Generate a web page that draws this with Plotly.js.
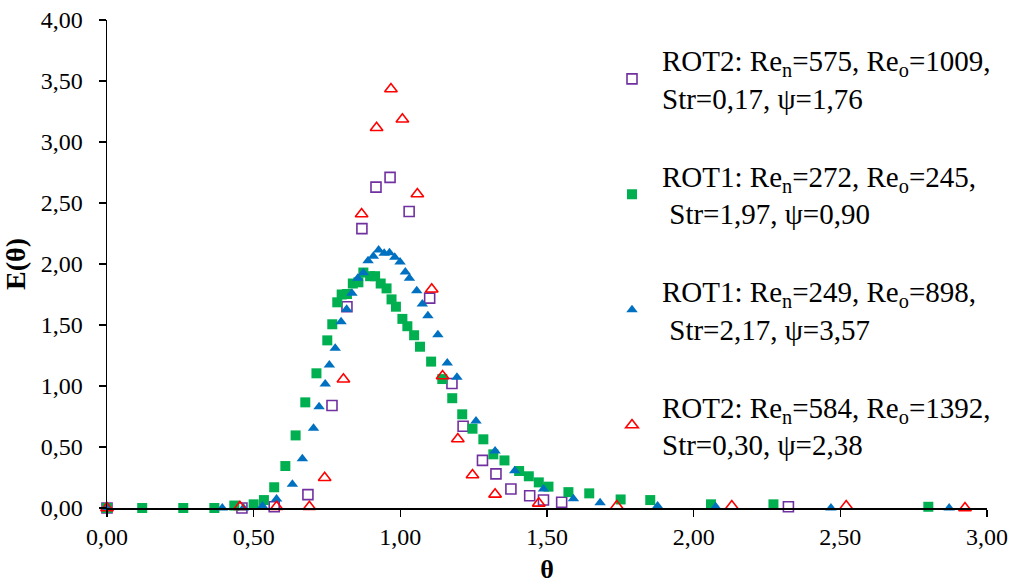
<!DOCTYPE html>
<html>
<head>
<meta charset="utf-8">
<script src="https://cdn.plot.ly/plotly-3.0.1.min.js"></script>
<style>html,body{margin:0;padding:0;background:#fff;}#chart{width:1009px;height:585px;}</style>
</head>
<body>
<div id="chart"></div>
<script>
// ROT2: Re_n=575, Re_o=1009 (purple open squares)
const theta_rot2_575 = [0, 0.46, 0.57, 0.685, 0.767, 0.818, 0.869, 0.917, 0.965, 1.03, 1.10, 1.176, 1.214, 1.28, 1.326, 1.377, 1.441, 1.488, 1.55, 2.323];
const E_rot2_575     = [0, 0, 0.01, 0.11, 0.84, 1.65, 2.29, 2.63, 2.71, 2.43, 1.72, 1.02, 0.67, 0.39, 0.28, 0.156, 0.10, 0.065, 0.047, 0.01];

// ROT1: Re_n=272, Re_o=245 (green filled squares)
const theta_rot1_272 = [0, 0.12, 0.26, 0.366, 0.434, 0.50, 0.535, 0.57, 0.608, 0.643, 0.676, 0.714, 0.751, 0.768, 0.785, 0.80, 0.818, 0.838, 0.857, 0.874, 0.897, 0.914, 0.933, 0.953, 0.97, 0.985, 1.007, 1.024, 1.047, 1.067, 1.105, 1.143, 1.177, 1.211, 1.246, 1.283, 1.317, 1.355, 1.405, 1.438, 1.472, 1.505, 1.573, 1.644, 1.751, 1.852, 2.059, 2.272, 2.80];
const E_rot1_272     = [0, 0, 0, 0, 0.02, 0.03, 0.065, 0.17, 0.344, 0.595, 0.866, 1.104, 1.374, 1.506, 1.686, 1.75, 1.754, 1.84, 1.85, 1.93, 1.90, 1.90, 1.84, 1.80, 1.71, 1.65, 1.55, 1.49, 1.416, 1.322, 1.20, 1.057, 0.90, 0.768, 0.65, 0.563, 0.44, 0.39, 0.303, 0.26, 0.21, 0.175, 0.13, 0.12, 0.07, 0.065, 0.03, 0.03, 0.01];

// ROT1: Re_n=249, Re_o=898 (blue filled triangles)
const theta_rot1_249 = [0, 0.393, 0.465, 0.53, 0.578, 0.632, 0.666, 0.704, 0.723, 0.744, 0.758, 0.778, 0.798, 0.817, 0.835, 0.855, 0.874, 0.89, 0.908, 0.926, 0.945, 0.963, 0.981, 0.999, 1.017, 1.031, 1.056, 1.075, 1.094, 1.128, 1.16, 1.193, 1.258, 1.323, 1.39, 1.488, 1.59, 1.681, 1.877, 2.075, 2.468, 2.871];
const E_rot1_249     = [0, 0, 0, 0.016, 0.074, 0.194, 0.404, 0.653, 0.83, 1.016, 1.172, 1.309, 1.527, 1.629, 1.76, 1.883, 1.929, 2.027, 2.063, 2.115, 2.088, 2.093, 2.055, 2.016, 1.934, 1.883, 1.781, 1.672, 1.576, 1.421, 1.189, 1.071, 0.713, 0.467, 0.306, 0.156, 0.076, 0.043, 0.016, 0.01, 0, 0];

// ROT2: Re_n=584, Re_o=1392 (red open triangles)
const theta_rot2_584 = [0, 0.453, 0.578, 0.69, 0.742, 0.806, 0.868, 0.919, 0.968, 1.007, 1.058, 1.107, 1.144, 1.196, 1.246, 1.323, 1.472, 1.738, 2.13, 2.52, 2.925];
const E_rot2_584     = [0, 0.01, 0.01, 0.01, 0.248, 1.055, 2.41, 3.117, 3.434, 3.186, 2.574, 1.793, 1.082, 0.566, 0.27, 0.112, 0.038, 0.016, 0.016, 0.016, 0];

const seriesNames = [
  "ROT2: Re<sub>n</sub>=575, Re<sub>o</sub>=1009,<br>Str=0,17, ψ=1,76",
  "ROT1: Re<sub>n</sub>=272, Re<sub>o</sub>=245,<br>&nbsp;Str=1,97, ψ=0,90",
  "ROT1: Re<sub>n</sub>=249, Re<sub>o</sub>=898,<br>&nbsp;Str=2,17, ψ=3,57",
  "ROT2: Re<sub>n</sub>=584, Re<sub>o</sub>=1392,<br>Str=0,30, ψ=2,38"
];
const xTicks = [0, 0.5, 1.0, 1.5, 2.0, 2.5, 3.0];
const yTicks = [0, 0.5, 1.0, 1.5, 2.0, 2.5, 3.0, 3.5, 4.0];

const serif = "Liberation Serif, Times New Roman, serif";

const traces = [
  {x: theta_rot2_575, y: E_rot2_575, name: seriesNames[0], legendgroup: "a",
   marker: {symbol: "square-open", size: 10, color: "#7030A0", line: {width: 1.6, color: "#7030A0"}}},
  {x: theta_rot1_272, y: E_rot1_272, name: seriesNames[1], legendgroup: "b",
   marker: {symbol: "square", size: 10, color: "#00B050"}},
  {x: theta_rot1_249, y: E_rot1_249, name: seriesNames[2], legendgroup: "c",
   marker: {symbol: "triangle-up", size: 10, color: "#0070C0"}},
  {x: theta_rot2_584, y: E_rot2_584, name: seriesNames[3], legendgroup: "d",
   marker: {symbol: "triangle-up-open", size: 11, color: "#FF0000", line: {width: 1.6, color: "#FF0000"}}}
].map(t => Object.assign({type: "scatter", mode: "markers", cliponaxis: false}, t));

const layout = {
  width: 1009, height: 585,
  margin: {l: 107, r: 22, t: 20, b: 77},
  paper_bgcolor: "#ffffff", plot_bgcolor: "#ffffff",
  separators: ", ",
  font: {family: serif, color: "#000", size: 24},
  showlegend: true,
  legend: {
    x: 0.5625, y: 0.97, xanchor: "left", yanchor: "top",
    bgcolor: "rgba(0,0,0,0)", borderwidth: 0,
    font: {family: serif, size: 29, color: "#000"},
    tracegroupgap: 37, itemwidth: 50, valign: "middle"
  },
  xaxis: {
    range: [0, 3], tickvals: xTicks, tickformat: ".2f",
    showgrid: false, zeroline: false, showline: true, linecolor: "#000", linewidth: 1.5,
    ticks: "outside", ticklen: 7, tickwidth: 1.5, tickcolor: "#000",
    tickfont: {family: serif, size: 24, color: "#000"},
    title: {text: "<b>θ</b>", font: {family: serif, size: 26, color: "#000"}, standoff: 10}
  },
  yaxis: {
    range: [0, 4], tickvals: yTicks, tickformat: ".2f",
    showgrid: false, zeroline: false, showline: true, linecolor: "#000", linewidth: 1.5,
    ticks: "outside", ticklen: 7, tickwidth: 1.5, tickcolor: "#000", ticklabelstandoff: 11,
    tickfont: {family: serif, size: 24, color: "#000"},
    title: {text: "<b>E(θ)</b>", font: {family: serif, size: 28, color: "#000"}, standoff: 8}
  }
};

Plotly.newPlot("chart", traces, layout, {displayModeBar: false, staticPlot: true});
</script>
</body>
</html>
